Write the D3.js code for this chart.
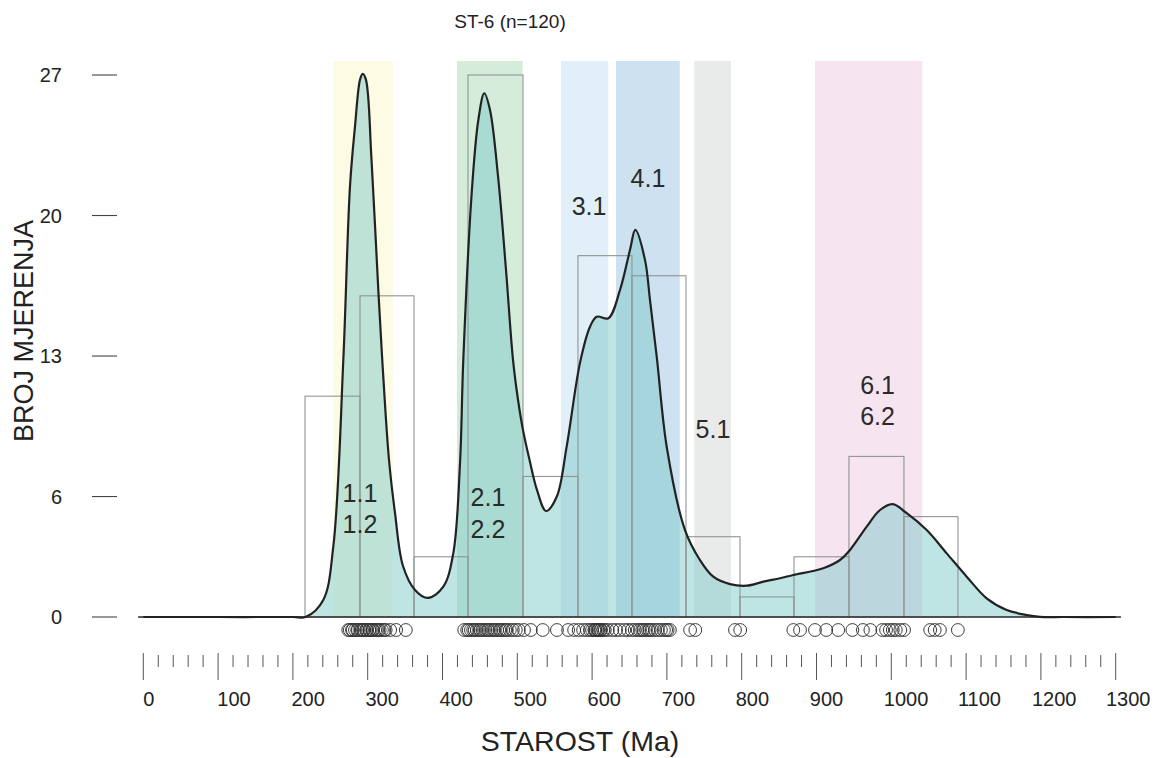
<!DOCTYPE html>
<html>
<head>
<meta charset="utf-8">
<script src="https://cdn.jsdelivr.net/npm/d3@7/dist/d3.min.js"></script>
<style>
  html, body { margin: 0; padding: 0; background: #fff; }
  svg text { font-family: "Liberation Sans", Arial, Helvetica, sans-serif; }
</style>
</head>
<body>
<div id="chart"></div>
<script>
// ---------------- DATA ----------------
const title = "ST-6 (n=120)";
const yTitle = "BROJ MJERENJA";
const xTitle = "STAROST (Ma)";

const yTicks = [0, 6, 13, 20, 27];
const xMajorTicks = [0,100,200,300,400,500,600,700,800,900,1000,1100,1200,1300];
const xMinorStep = 20;

// individual ages (Ma)
const ages = [
  274,276,279,280,283,286,287,290,292,294,295,298,299,302,303,306,307,310,312,314,316,319,322,324,330,338,351,
  429,433,435,438,441,443,446,449,451,454,457,460,462,465,468,470,473,476,478,481,484,486,490,494,498,502,509,518,
  534,553,568,576,582,588,593,
  597,600,603,604,605,607,608,609,611,612,615,617,621,627,632,637,643,648,
  653,657,661,664,667,669,672,675,677,680,684,688,692,696,699,701,704,
  731,738,791,798,
  869,878,898,
  913,929,948,962,972,988,993,998,1002,1006,1012,1017,1052,1058,1065,1089
];

// histogram bins (Ma) and counts
const binEdges = [216.2, 289.7, 361.9, 434.1, 507.6, 581.1, 653.3, 725.5, 797.7, 869.9, 943.4, 1016.9, 1089.1];
const binCounts = [11, 16, 3, 27, 7, 18, 17, 4, 1, 3, 8, 5];

// probability density curve (Ma, scaled count)
const curveAges = [0, 100, 200, 217.5, 240.6, 254.0, 267.4, 276.3, 283.0, 289.7, 293.3, 297.7, 305.1, 314.4,
  321.1, 328.5, 336.5, 347.2, 363.2, 380.6, 401.1, 414.4, 423.4, 427.8, 439.0, 447.9, 455.9, 463.5, 474.2,
  484.9, 494.3, 501.0, 507.6, 517.0, 526.3, 538.4, 552.7, 566.0, 583.8, 597.2, 606.1, 621.7, 637.3, 650.7,
  657.8, 670.7, 677.4, 686.4, 700.0, 724.2, 744.2, 762.0, 784.4, 806.7, 828.9, 851.2, 869.0, 909.1, 931.4,
  944.8, 967.1, 984.9, 1001.9, 1020.6, 1047.3, 1074.1, 1100.8, 1127.5, 1154.3, 1181.0, 1198.8, 1230, 1300];
const curveValues = [0, 0, 0, 0.01, 0.85, 3.5, 12.8, 21.44, 24.43, 26.76, 27.06, 26.76, 22.77, 16.14,
  11.81, 7.82, 5.18, 2.54, 1.35, 0.95, 1.51, 3.17, 7.66, 12.8, 21.11, 24.76, 26.09, 25.26, 21.97,
  17.29, 12.8, 10.81, 9.32, 7.72, 6.33, 5.28, 5.99, 8.49, 12.66, 14.46, 14.96, 14.88, 16.29, 18.29,
  19.28, 17.79, 15.79, 12.97, 8.42, 4.33, 2.84, 2.01, 1.64, 1.56, 1.76, 1.93, 2.09, 2.43, 2.84,
  3.34, 4.5, 5.33, 5.62, 5.17, 4.33, 3.17, 2.01, 0.93, 0.35, 0.1, 0.01, 0, 0];

// age groups (background bands), Ma
const bandStarts = [254.5, 419.4, 558.4, 632.0, 736.6, 898.0];
const bandEnds   = [333.4, 507.2, 621.7, 717.1, 785.7, 1041.4];
const bandTop = 27.7;

// group labels: text, age, value
const labelTexts  = ["1.1", "1.2", "2.1", "2.2", "3.1", "4.1", "5.1", "6.1", "6.2"];
const labelAges   = [289.7, 289.7, 460.8, 460.8, 595.9, 674.7, 761.6, 981.6, 981.6];
const labelValues = [5.75, 4.18, 5.53, 3.94, 20.03, 21.42, 8.92, 11.11, 9.57];

// ---------------- STYLE ----------------
const bandColors = ["#fdfbe3", "#d5ecdb", "#e0eff8", "#cde1f0", "#e9ebea", "#f6e4f0"];

const W = 1172, H = 758;
const svg = d3.select("#chart").append("svg").attr("width", W).attr("height", H)
  .style("display", "block");
svg.append("rect").attr("width", W).attr("height", H).attr("fill", "#fff");

const x = d3.scaleLinear().domain([0, 1300]).range([143.3, 1115.7]);
const xLabel = d3.scaleLinear().domain([0, 1300]).range([143.3, 1106]);
const y = d3.scaleLinear().domain([0, 27]).range([617, 75]);

// bands
svg.append("g").selectAll("rect").data(bandStarts).join("rect")
  .attr("x", (d) => x(d))
  .attr("width", (d, i) => x(bandEnds[i]) - x(d))
  .attr("y", y(bandTop))
  .attr("height", y(0) - y(bandTop))
  .attr("fill", (d, i) => bandColors[i]);

// density area
const pts = curveAges.map((a, i) => [a, curveValues[i]]);
const cv = d3.curveCatmullRom.alpha(0.5);
const area = d3.area().x(d => x(d[0])).y0(y(0)).y1(d => Math.min(y(0), y(d[1]))).curve(cv);
const line = d3.line().x(d => x(d[0])).y(d => y(d[1])).curve(cv);
svg.append("path").datum(pts).attr("d", area)
  .attr("fill", "#7fcaca").attr("fill-opacity", 0.5);

// histogram
svg.append("g").selectAll("rect").data(binCounts).join("rect")
  .attr("x", (d, i) => x(binEdges[i]))
  .attr("width", (d, i) => x(binEdges[i + 1]) - x(binEdges[i]))
  .attr("y", d => y(d))
  .attr("height", d => y(0) - y(d))
  .attr("fill", "none")
  .attr("stroke", "#8f9595").attr("stroke-width", 1.1);

// baseline
svg.append("line")
  .attr("x1", x(-7)).attr("x2", x(1307)).attr("y1", y(0)).attr("y2", y(0))
  .attr("stroke", "#2a2a2a").attr("stroke-width", 1.6);

// curve
svg.append("path").datum(pts).attr("d", line)
  .attr("fill", "none").attr("stroke", "#222").attr("stroke-width", 2.2)
  .attr("stroke-linejoin", "round");

// dots
svg.append("g").selectAll("circle").data(ages).join("circle")
  .attr("cx", d => x(d)).attr("cy", 630).attr("r", 6.4)
  .attr("fill", "none").attr("stroke", "#333").attr("stroke-width", 0.95);

// x axis
const minor = d3.range(0, 1300 + 1, xMinorStep).filter(v => v % 100 !== 0);
const gx = svg.append("g");
gx.selectAll("line.major").data(xMajorTicks).join("line").attr("class", "major")
  .attr("x1", d => x(d)).attr("x2", d => x(d)).attr("y1", 653).attr("y2", 680)
  .attr("stroke", "#555").attr("stroke-width", 1);
gx.selectAll("line.minor").data(minor).join("line").attr("class", "minor")
  .attr("x1", d => x(d)).attr("x2", d => x(d)).attr("y1", 655).attr("y2", 667)
  .attr("stroke", "#555").attr("stroke-width", 1);
gx.selectAll("text").data(xMajorTicks).join("text")
  .attr("x", d => xLabel(d)).attr("y", 706)
  .attr("text-anchor", "start").attr("font-size", 20).attr("fill", "#222")
  .text(d => d);

// y axis
const gy = svg.append("g");
gy.selectAll("line").data(yTicks).join("line")
  .attr("x1", 92).attr("x2", 117).attr("y1", d => y(d)).attr("y2", d => y(d))
  .attr("stroke", "#444").attr("stroke-width", 1.1);
gy.selectAll("text").data(yTicks).join("text")
  .attr("x", 62).attr("y", d => y(d) + 7)
  .attr("text-anchor", "end").attr("font-size", 20).attr("fill", "#222")
  .text(d => d);

// group labels
svg.append("g").selectAll("text").data(labelTexts).join("text")
  .attr("x", (d, i) => x(labelAges[i])).attr("y", (d, i) => y(labelValues[i]))
  .attr("text-anchor", "middle").attr("font-size", 25).attr("fill", "#2a2a2a")
  .text(d => d);

// titles
svg.append("text").attr("x", 510).attr("y", 28).attr("text-anchor", "middle")
  .attr("font-size", 19).attr("fill", "#222").text(title);
svg.append("text").attr("transform", "translate(33,331) rotate(-90)")
  .attr("text-anchor", "middle").attr("font-size", 27).attr("fill", "#222").text(yTitle);
svg.append("text").attr("x", 580).attr("y", 751).attr("text-anchor", "middle")
  .attr("font-size", 28.5).attr("fill", "#222").text(xTitle);
</script>
</body>
</html>
